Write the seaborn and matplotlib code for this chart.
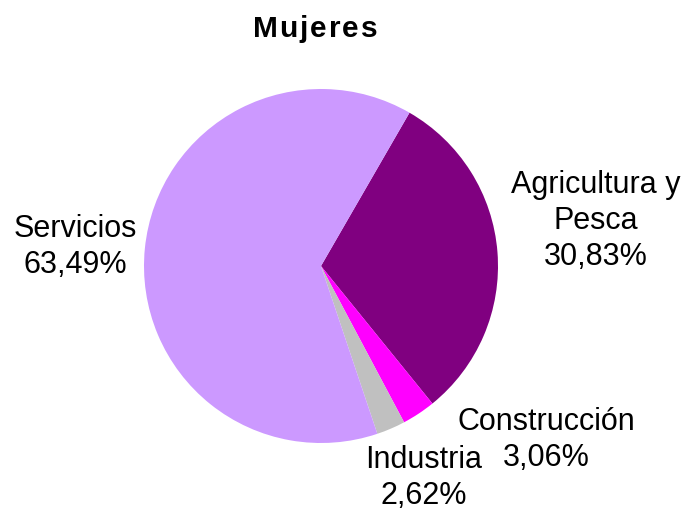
import matplotlib
matplotlib.use("Agg")
import matplotlib.pyplot as plt
import seaborn as sns

# data
sectores = ["Agricultura y\nPesca", "Construcción", "Industria", "Servicios"]
porcentajes = [30.83, 3.06, 2.62, 63.49]
colores = ["#800080", "#FF00FF", "#C0C0C0", "#CC99FF"]

sns.set_theme(style="white")
plt.rcParams["font.family"] = ["Liberation Sans", "DejaVu Sans"]

W, H = 685, 511
fig = plt.figure(figsize=(W / 100, H / 100), dpi=100)
ax = fig.add_axes([0, 0, 1, 1])

ax.pie(porcentajes, colors=colores, startangle=60, counterclock=False,
       center=(321, H - 266), radius=177, frame=True,
       wedgeprops=dict(linewidth=0))
ax.set_xlim(0, W)
ax.set_ylim(0, H)
ax.set_aspect("equal")
ax.axis("off")

def fmt(v):
    return f"{v:.2f}".replace(".", ",") + "%"

# label block centres (pixels from top-left)
pos = {"Agricultura y\nPesca": (596, 221), "Construcción": (546, 440),
       "Industria": (424, 478), "Servicios": (75, 247)}
for s, v in zip(sectores, porcentajes):
    x, y = pos[s]
    ax.text(x, H - y, f"{s}\n{fmt(v)}", ha="center", va="center",
            fontsize=22, linespacing=1.28, color="black")

# spaced bold title
titulo = "Mujeres"
fig.canvas.draw()
r = fig.canvas.get_renderer()
gap = 2.0
ws = []
for ch in titulo:
    t = ax.text(0, 0, ch, fontsize=21.5, fontweight="bold")
    ws.append(t.get_window_extent(r).width)
    t.remove()
total = sum(ws) + gap * (len(ws) - 1)
x0 = 315 - total / 2
for ch, w in zip(titulo, ws):
    ax.text(x0, H - 37, ch, fontsize=21.5, fontweight="bold",
            va="baseline", color="black")
    x0 += w + gap

fig.savefig("out.png", dpi=100)
